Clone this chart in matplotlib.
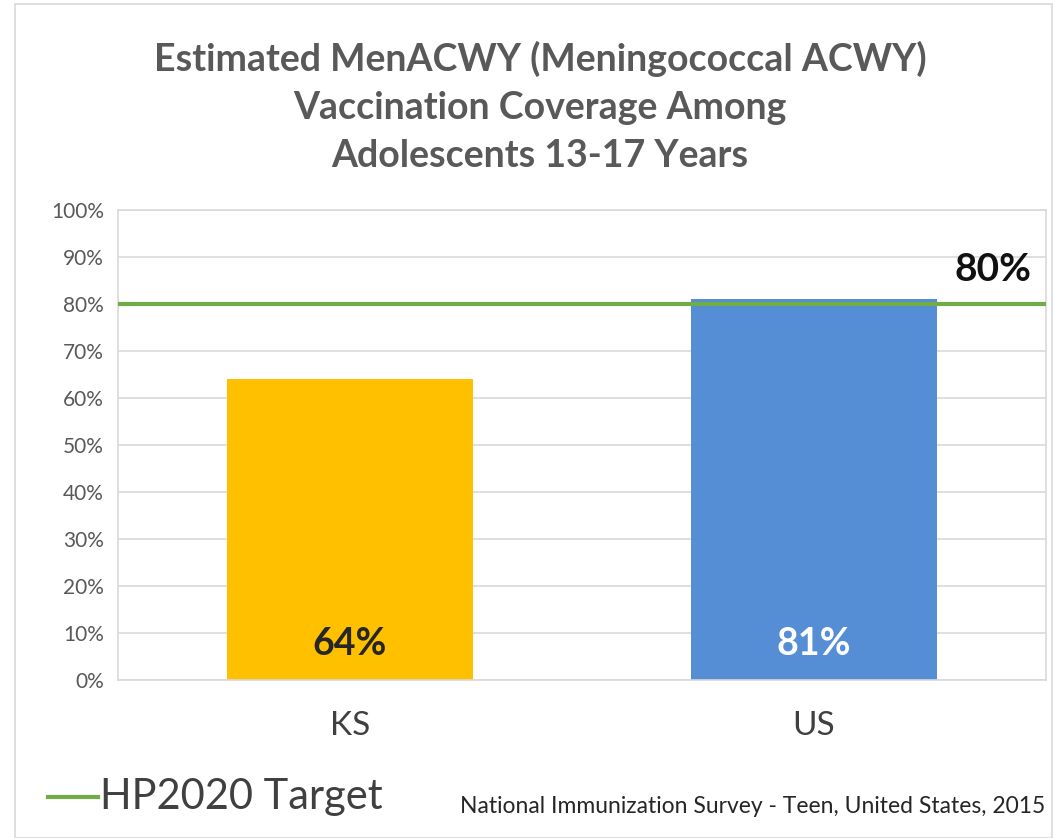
import matplotlib.pyplot as plt
from matplotlib.ticker import FuncFormatter

# Data
states = ['KS', 'US']
coverage = [64, 81]
bar_colors = ['#FFC000', '#558ED5']
label_colors = ['#262626', '#FFFFFF']
target = 80
target_label = 'HP2020 Target'
source = 'National Immunization Survey - Teen, United States, 2015'

plt.rcParams['font.family'] = ['Lato', 'DejaVu Sans']

fig = plt.figure(figsize=(10.53, 8.38), dpi=100)
ax = fig.add_axes([0.112, 0.1885, 0.881, 0.5610])

x = range(len(states))
ax.bar(x, coverage, width=0.53, color=bar_colors, zorder=2)
ax.axhline(target, color='#70AD47', linewidth=3, zorder=3)

for i, v in enumerate(coverage):
    ax.text(i, 4, f'{v}%', ha='center', va='bottom', fontsize=27,
            fontweight='bold', color=label_colors[i], zorder=4)

ax.text(1.47, target + 3.5, f'{target}%', ha='right', va='bottom', fontsize=28,
        fontweight='bold', color='#111111')

ax.set_xlim(-0.5, 1.5)
ax.set_ylim(0, 100)
ax.set_yticks(range(0, 101, 10))
ax.yaxis.set_major_formatter(FuncFormatter(lambda v, p: f'{int(v)}%'))
ax.set_xticks(list(x))
ax.set_xticklabels(states, fontsize=24, color='#404040')
ax.tick_params(axis='y', labelsize=15, labelcolor='#595959', length=0, pad=10)
ax.tick_params(axis='x', length=0, pad=22)
ax.grid(axis='y', color='#D9D9D9', linewidth=1.2, zorder=0)
for s in ax.spines.values():
    s.set_color('#D9D9D9')
    s.set_linewidth(1.2)

fig.text(0.513, 0.872, 'Estimated MenACWY (Meningococcal ACWY)\nVaccination Coverage Among\nAdolescents 13-17 Years',
         ha='center', va='center', fontsize=27, fontweight='bold', color='#595959',
         linespacing=1.5)

# legend entry drawn manually to match placement
fig.lines.append(plt.Line2D([0.046, 0.093], [0.049, 0.049], transform=fig.transFigure,
                            color='#70AD47', linewidth=3))
fig.text(0.095, 0.049, target_label, ha='left', va='center', fontsize=30,
         color='#404040')
fig.text(0.993, 0.037, source, ha='right', va='center', fontsize=16.5, color='#262626')

# outer border
fig.patches.append(plt.Rectangle((0.014, 0.0), 0.985, 0.995, transform=fig.transFigure,
                                 fill=False, edgecolor='#D9D9D9', linewidth=1.2))

fig.savefig('out.png', dpi=100)
